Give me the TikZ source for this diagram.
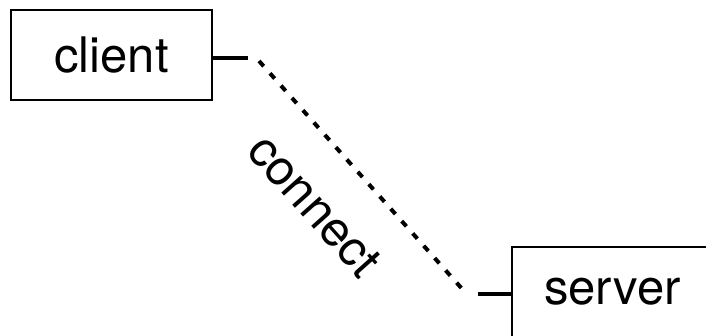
\documentclass[tikz,border=0pt]{standalone}
\usepackage{fontspec}
\setmainfont{TeX Gyre Heros}
\usepackage{tikz}
\usetikzlibrary{positioning}

\begin{document}
\begin{tikzpicture}[
    x=1pt, y=1pt,
    box/.style={draw, line width=1.2pt, minimum width=201pt, minimum height=90pt, inner sep=0pt, font=\fontsize{49}{58}\selectfont},
    stub/.style={line width=4pt},
    link/.style={line width=4pt, dash pattern=on 7pt off 9.5pt},
    linklabel/.style={inner sep=0pt, font=\fontsize{49}{58}\selectfont}
]
    \clip (0,0) rectangle (706,336);
    % Endpoints
    \node[box] (client) at (111.5,281) {client};
    \node[box] (server) at (612.5,44) {server};

    % Stubs on the boxes
    \coordinate (cstub) at (248,278);
    \coordinate (sstub) at (478,42);
    \draw[stub] (client.east |- cstub) -- (cstub);
    \draw[stub] (sstub) -- (server.west |- sstub);

    % Connection
    \coordinate (cend) at (259,275);
    \coordinate (send) at (464,45);
    \draw[link] (cend) -- node[linklabel, sloped, below=36pt, pos=0.47] (connect) {connect} (send);
\end{tikzpicture}
\end{document}
